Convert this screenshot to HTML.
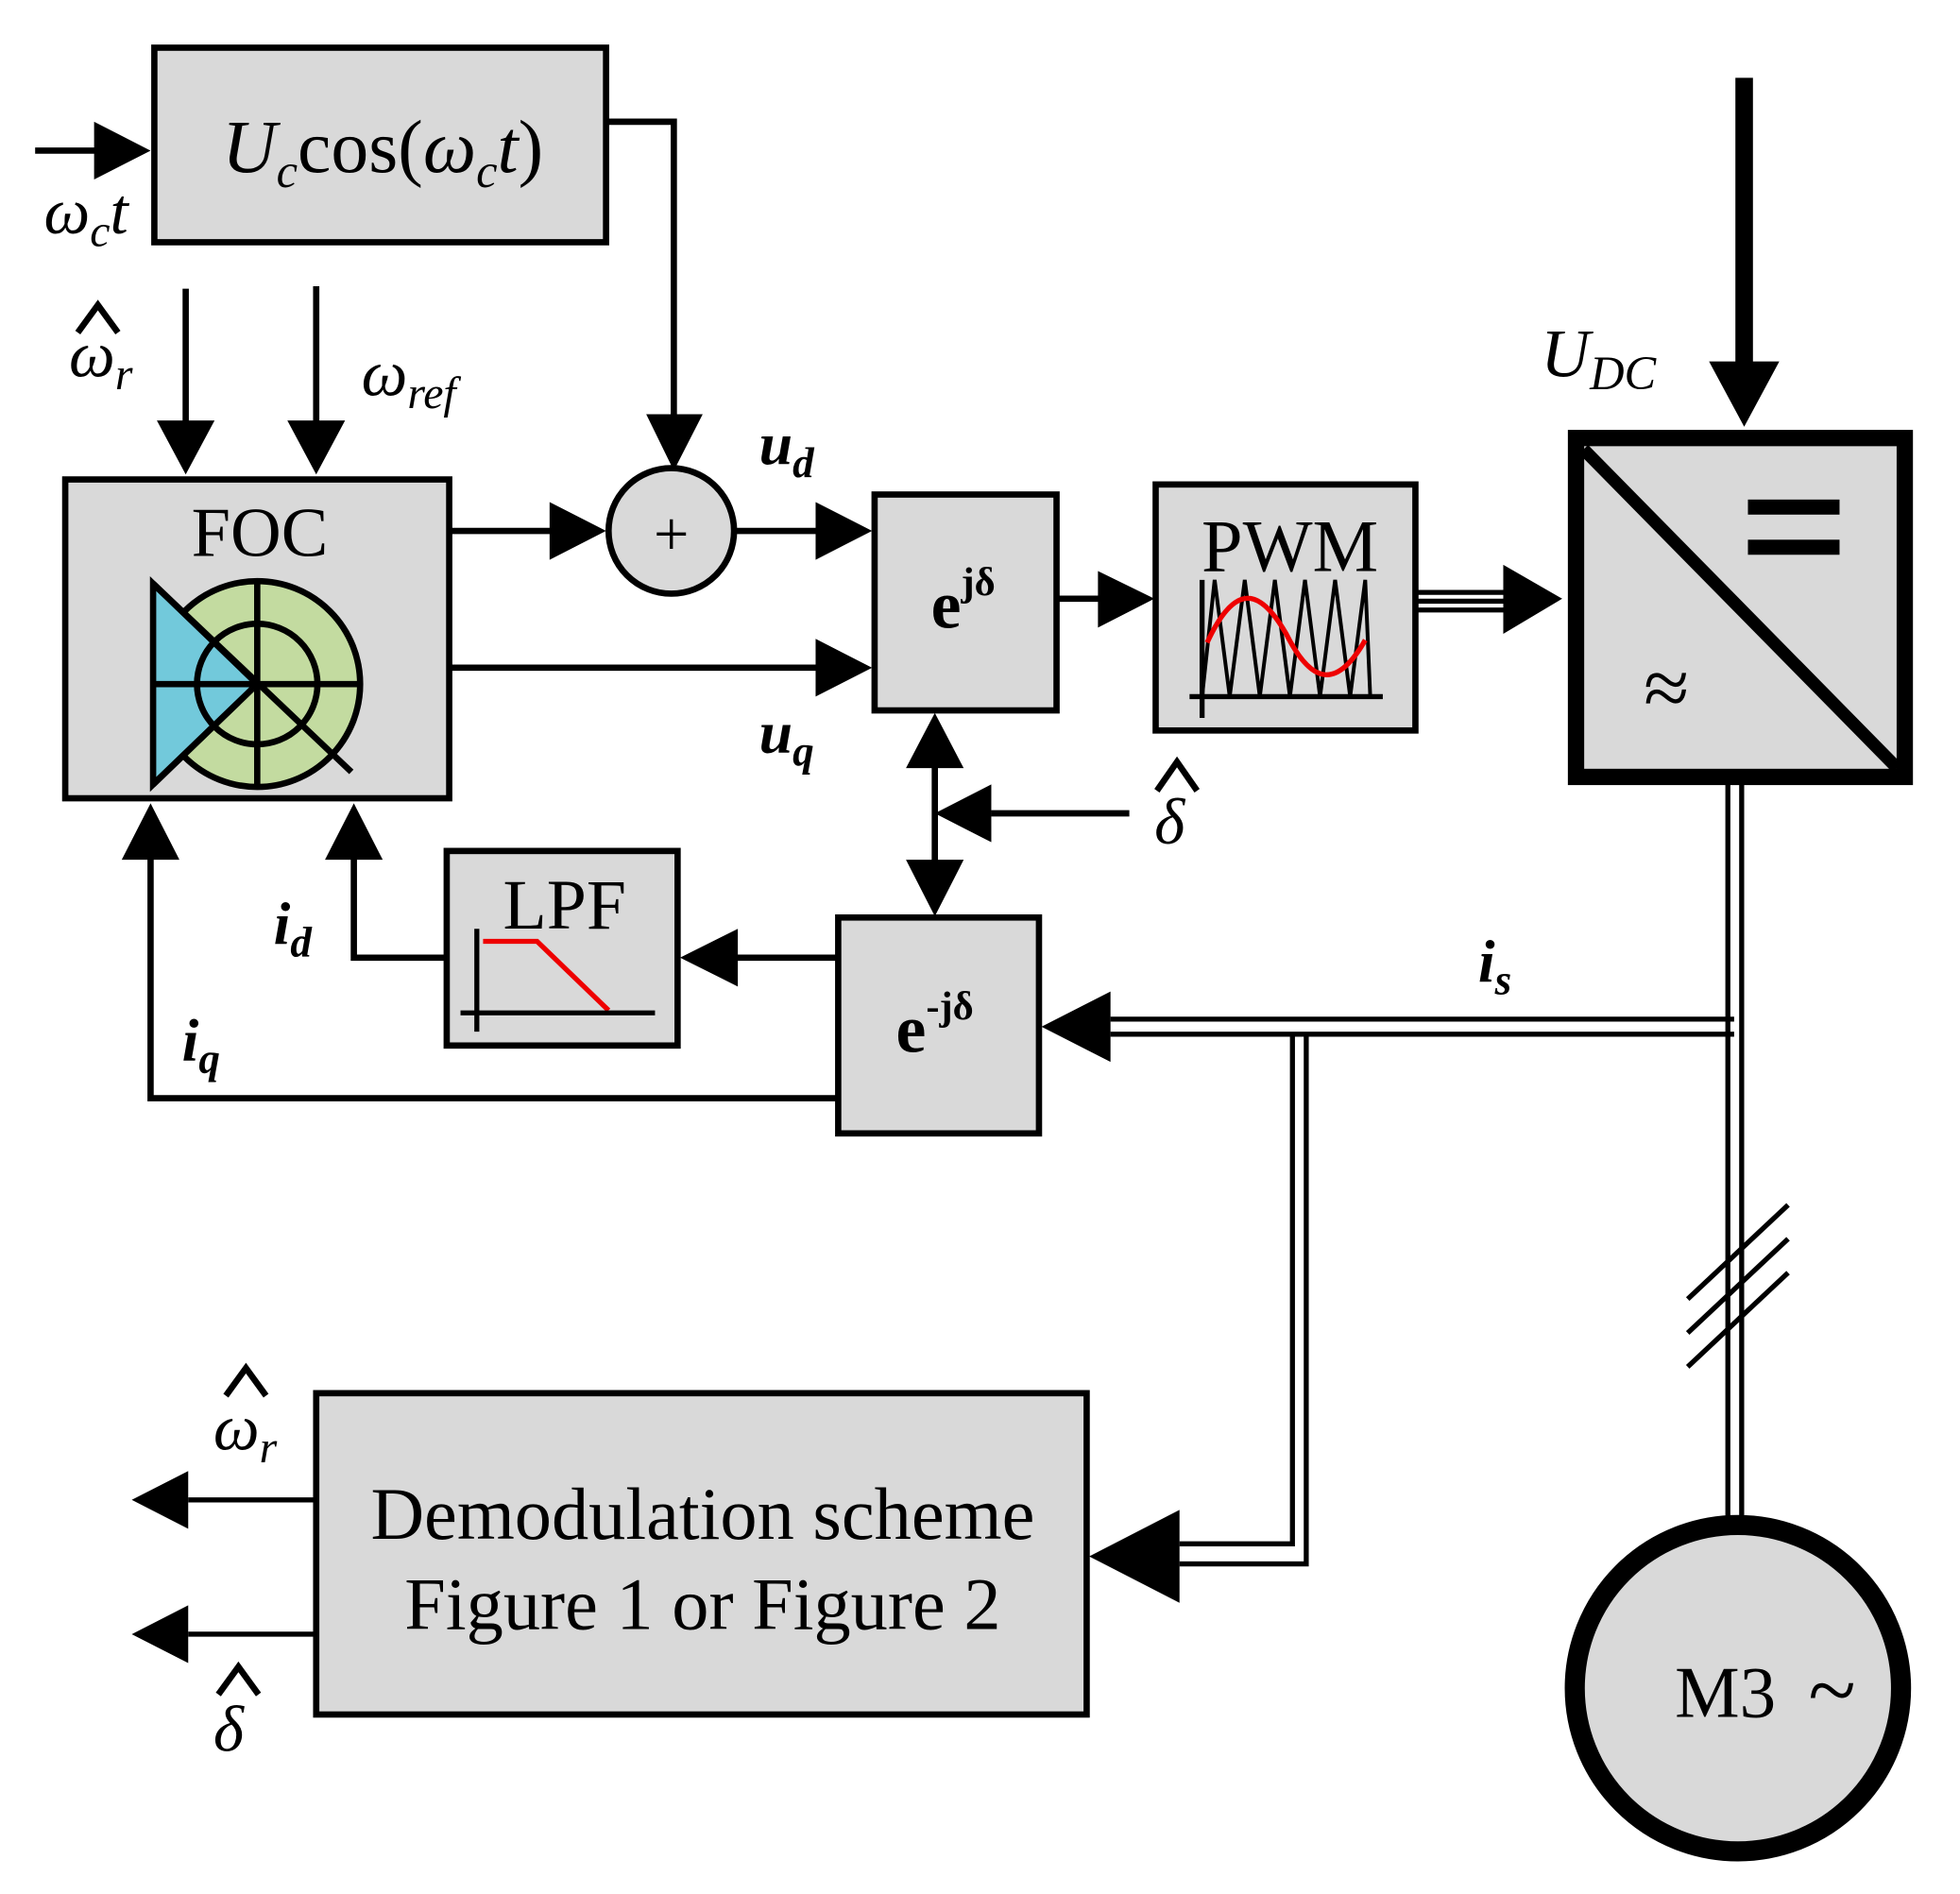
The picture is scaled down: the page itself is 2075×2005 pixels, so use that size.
<!DOCTYPE html>
<html><head><meta charset="utf-8"><style>
html,body{margin:0;padding:0;background:#fff;}
svg{display:block;}
text{font-family:"Liberation Serif",serif;fill:#000;}
</style></head><body>
<svg width="2075" height="2005" viewBox="0 0 1562 1509" preserveAspectRatio="none" xmlns="http://www.w3.org/2000/svg">
<g stroke="#000" stroke-width="5" fill="#d9d9d9">
<rect x="123" y="38" width="360" height="155"/>
<rect x="52" y="382" width="306" height="254"/>
<rect x="697" y="394" width="145" height="172"/>
<rect x="921" y="386" width="207" height="196"/>
<rect x="668" y="731" width="160" height="172"/>
<rect x="356" y="678" width="184" height="155"/>
<rect x="252" y="1110" width="614" height="256"/>
<circle cx="535" cy="423" r="50"/>
</g>
<rect x="1256" y="349" width="262" height="270" fill="#d9d9d9" stroke="#000" stroke-width="13"/>
<line x1="1262" y1="358" x2="1512" y2="612" stroke="#000" stroke-width="10"/>
<rect x="1393" y="398" width="73" height="12" fill="#000"/>
<rect x="1393" y="430" width="73" height="12" fill="#000"/>
<text x="1328" y="570" font-size="66" text-anchor="middle">≈</text>
<circle cx="1385" cy="1345" r="130" fill="#d9d9d9" stroke="#000" stroke-width="16"/>
<text x="1375" y="1368" font-size="58" text-anchor="middle">M3</text>
<text x="1460" y="1370" font-size="70" text-anchor="middle">~</text>

<g stroke="#000" stroke-width="5" fill="none">
<line x1="28" y1="120" x2="80" y2="120"/>
<polyline points="483,97 537,97 537,335"/>
<line x1="148" y1="230" x2="148" y2="340"/>
<line x1="252" y1="228" x2="252" y2="340"/>
<line x1="358" y1="423" x2="440" y2="423"/>
<line x1="585" y1="423" x2="652" y2="423"/>
<line x1="358" y1="532" x2="652" y2="532"/>
<line x1="842" y1="477" x2="877" y2="477"/>
<line x1="745" y1="605" x2="745" y2="690"/>
<line x1="900" y1="648" x2="790" y2="648"/>
<line x1="668" y1="763" x2="586" y2="763"/>
<polyline points="356,763 282,763 282,682"/>
<polyline points="668,875 120,875 120,682"/>
</g>
<g stroke="#000" stroke-width="4" fill="none">
<line x1="1128" y1="472" x2="1200" y2="472"/>
<line x1="1128" y1="479" x2="1200" y2="479"/>
<line x1="1128" y1="486" x2="1200" y2="486"/>
<line x1="1377" y1="622" x2="1377" y2="1210"/>
<line x1="1388" y1="622" x2="1388" y2="1210"/>
<line x1="1382" y1="812" x2="885" y2="812"/>
<line x1="1382" y1="824" x2="885" y2="824"/>
<polyline points="1030,824 1030,1230 940,1230"/>
<polyline points="1041,824 1041,1246 940,1246"/>
<line x1="252" y1="1195" x2="150" y2="1195"/>
<line x1="252" y1="1302" x2="150" y2="1302"/>
<line x1="1345" y1="1035" x2="1425" y2="960"/>
<line x1="1345" y1="1062" x2="1425" y2="987"/>
<line x1="1345" y1="1089" x2="1425" y2="1014"/>
</g>
<line x1="1390" y1="62" x2="1390" y2="292" stroke="#000" stroke-width="14"/>

<g fill="#000">
<polygon points="75,97 120,120 75,143"/>
<polygon points="515,330 537,375 560,330"/>
<polygon points="125,335 148,378 171,335"/>
<polygon points="229,335 252,378 275,335"/>
<polygon points="438,400 483,423 438,446"/>
<polygon points="650,400 695,423 650,446"/>
<polygon points="650,509 695,532 650,555"/>
<polygon points="875,455 920,477 875,500"/>
<polygon points="1198,450 1245,477 1198,505"/>
<polygon points="1362,288 1390,340 1418,288"/>
<polygon points="885,790 830,818 885,846"/>
<polygon points="940,1203 868,1240 940,1277"/>
<polygon points="150,1172 105,1195 150,1218"/>
<polygon points="150,1279 105,1302 150,1325"/>
<polygon points="722,612 745,568 768,612"/>
<polygon points="722,685 745,730 768,685"/>
<polygon points="790,625 745,648 790,671"/>
<polygon points="588,740 542,763 588,786"/>
<polygon points="259,685 282,640 305,685"/>
<polygon points="97,685 120,640 143,685"/>
</g>

<circle cx="205" cy="545" r="82" fill="#c3dba0" stroke="#000" stroke-width="5"/>
<polygon points="122,465 122,625 205,545" fill="#72c9db" stroke="#000" stroke-width="5"/>
<circle cx="205" cy="545" r="48" fill="none" stroke="#000" stroke-width="5"/>
<g stroke="#000" stroke-width="5">
<line x1="205" y1="463" x2="205" y2="627"/>
<line x1="123" y1="545" x2="287" y2="545"/>
<line x1="122" y1="465" x2="280" y2="615"/>
<line x1="122" y1="625" x2="205" y2="545"/>
</g>
<text x="207" y="443" font-size="56" text-anchor="middle">FOC</text>

<text x="1028" y="455" font-size="59" text-anchor="middle">PWM</text>
<polyline points="958,555 968,462 980,555 992,462 1004,555 1016,462 1028,555 1040,462 1052,555 1064,462 1076,555 1088,462 1092,555" fill="none" stroke="#000" stroke-width="3"/>
<path d="M962,512 C985,462 1005,470 1025,505 C1045,545 1065,550 1088,510" fill="none" stroke="#e00" stroke-width="4"/>
<line x1="958" y1="462" x2="958" y2="572" stroke="#000" stroke-width="4"/>
<line x1="948" y1="555" x2="1102" y2="555" stroke="#000" stroke-width="4"/>

<text x="450" y="740" font-size="57" text-anchor="middle">LPF</text>
<polyline points="385,750 428,750 485,805" fill="none" stroke="#e00" stroke-width="4"/>
<line x1="380" y1="740" x2="380" y2="822" stroke="#000" stroke-width="4"/>
<line x1="367" y1="807" x2="522" y2="807" stroke="#000" stroke-width="4"/>

<text x="535" y="442" font-size="50" text-anchor="middle">+</text>
<text x="305" y="137" font-size="60" text-anchor="middle"><tspan font-style="italic">U</tspan><tspan font-style="italic" font-size="38" dy="12">c</tspan><tspan dy="-12">cos(</tspan><tspan font-style="italic">ω</tspan><tspan font-style="italic" font-size="38" dy="12">c</tspan><tspan font-style="italic" dy="-12">t</tspan>)</text>
<text x="35" y="186" font-size="52" font-style="italic">ω<tspan font-size="36" dy="10">c</tspan><tspan dy="-10">t</tspan></text>
<text x="55" y="300" font-size="52" font-style="italic">ω<tspan font-size="36" dy="10">r</tspan></text>
<polyline points="62,265 78,243 94,265" fill="none" stroke="#000" stroke-width="5"/>
<text x="288" y="315" font-size="52" font-style="italic">ω<tspan font-size="36" dy="10">ref</tspan></text>
<text x="605" y="370" font-size="48" font-style="italic" font-weight="bold">u<tspan font-size="34" dy="10">d</tspan></text>
<text x="605" y="600" font-size="48" font-style="italic" font-weight="bold">u<tspan font-size="34" dy="10">q</tspan></text>
<text x="742" y="500" font-size="54" font-weight="bold">e<tspan font-size="32" dy="-26">jδ</tspan></text>
<text x="714" y="838" font-size="54" font-weight="bold">e<tspan font-size="32" dy="-26">-jδ</tspan></text>
<text x="920" y="672" font-size="52" font-style="italic">δ</text>
<polyline points="922,630 938,607 954,630" fill="none" stroke="#000" stroke-width="5"/>
<text x="1228" y="300" font-size="54" font-style="italic">U<tspan font-size="38" dy="10">DC</tspan></text>
<text x="1178" y="782" font-size="48" font-style="italic" font-weight="bold">i<tspan font-size="34" dy="10">s</tspan></text>
<text x="218" y="752" font-size="48" font-style="italic" font-weight="bold">i<tspan font-size="34" dy="10">d</tspan></text>
<text x="145" y="845" font-size="48" font-style="italic" font-weight="bold">i<tspan font-size="34" dy="10">q</tspan></text>
<text x="560" y="1226" font-size="59" text-anchor="middle">Demodulation scheme</text>
<text x="560" y="1298" font-size="59" text-anchor="middle">Figure 1 or Figure 2</text>
<text x="170" y="1155" font-size="52" font-style="italic">ω<tspan font-size="36" dy="10">r</tspan></text>
<polyline points="180,1112 196,1090 212,1112" fill="none" stroke="#000" stroke-width="5"/>
<text x="170" y="1395" font-size="52" font-style="italic">δ</text>
<polyline points="174,1350 190,1328 206,1350" fill="none" stroke="#000" stroke-width="5"/>
</svg>
</body></html>
